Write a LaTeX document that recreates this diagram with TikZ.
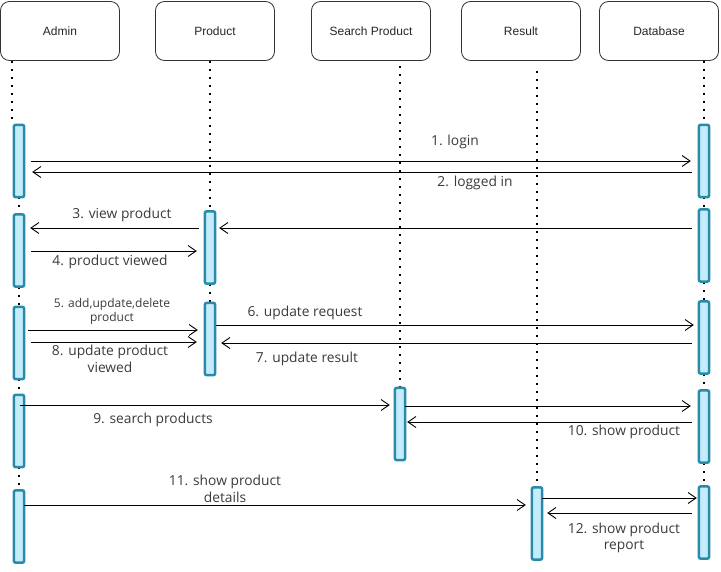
\documentclass[tikz,border=0pt]{standalone}
\usepackage{fontspec}
\setmainfont{Open Sans}
\newfontfamily\headfont{Liberation Sans}
\usetikzlibrary{arrows.meta}
\definecolor{barfill}{HTML}{C4ECFA}
\definecolor{barline}{HTML}{2A8AAA}
\definecolor{labelgray}{HTML}{3A3A3A}
\tikzset{
  head/.style={draw=black!80,line width=0.8pt,rounded corners=9pt,minimum width=119pt,minimum height=59pt,
    font=\headfont\fontsize{12}{14}\selectfont,text=black!85},
  life/.style={line width=2pt,dash pattern=on 2pt off 6pt},
  slot/.style={minimum width=10pt,minimum height=72pt,inner sep=0pt},
  bar/.style={draw=barline,fill=barfill,line width=2.5pt,rounded corners=2pt},
  msg/.style={-{Straight Barb[length=8pt,width=11pt]},line width=0.9pt,shorten <=7pt,shorten >=8pt},
  lbl/.style={font=\fontsize{13.8}{16.5}\selectfont,text=labelgray,inner sep=1pt,align=center},
  small/.style={font=\fontsize{12}{14}\selectfont}
}
\begin{document}
\begin{tikzpicture}[x=1pt,y=-1pt]
\useasboundingbox (0,0) rectangle (721,571);
% participants
\node[head] (admin) at (60,31) {Admin};
\node[head] (product) at (215,31) {Product};
\node[head] (search) at (371,31) {Search Product};
\node[head] (result) at (521,31) {Result};
\node[head] (database) at (659,31) {Database};
% activation slots
\node[slot] (adm1) at (19,161) {};
\node[slot] (adm2) at (19,250.5) {};
\node[slot] (adm3) at (19,343) {};
\node[slot] (adm4) at (19,431) {};
\node[slot] (adm5) at (19,526.5) {};
\node[slot] (prod1) at (210,247.5) {};
\node[slot] (prod2) at (210,339) {};
\node[slot] (srch1) at (400,424) {};
\node[slot] (res1) at (537,523.5) {};
\node[slot] (db1) at (704,161) {};
\node[slot] (db2) at (704,245.5) {};
\node[slot] (db3) at (704,337.5) {};
\node[slot] (db4) at (704,426.5) {};
\node[slot] (db5) at (704,522.5) {};
% lifelines
\draw[life] (admin.south -| 12,0) -- (12,124);
\draw[life] (adm1.south) -- (adm2.north);
\draw[life] (adm2.south) -- (adm3.north);
\draw[life] (adm3.south) -- (adm4.north);
\draw[life] (adm4.south) -- (adm5.north);
\draw[life] (product.south -| prod1) -- (prod1.north);
\draw[life] (prod1.south) -- (prod2.north);
\draw[life,shorten <=5pt] (search.south -| srch1) -- (srch1.north);
\draw[life,shorten <=10pt] (result.south -| res1) -- (res1.north);
\draw[life] (database.south -| db1) -- (db1.north);
\draw[life] (db1.south) -- (db2.north);
\draw[life] (db2.south) -- (db3.north);
\draw[life] (db3.south) -- (db4.north);
\draw[life] (db4.south) -- (db5.north);
% activation bars
\foreach \b in {adm1,adm2,adm3,adm4,adm5,prod1,prod2,srch1,res1,db1,db2,db3,db4,db5}
  \draw[bar] (\b.north west) rectangle (\b.south east);
% messages
\draw[msg] (adm1.east |- 0,161) -- (db1.west |- 0,161);
\draw[msg] (db1.west |- 0,172) -- (adm1.east |- 0,172);
\draw[msg,shorten >=4pt] (db2.west |- 0,228) -- (prod1.east |- 0,228);
\draw[msg,shorten <=6pt,shorten >=6pt] (prod1.west |- 0,228) -- (adm2.east |- 0,228);
\draw[msg] (adm2.east |- 0,251) -- (prod1.west |- 0,251);
\draw[msg,shorten <=4pt,shorten >=7pt] (adm3.east |- 0,330) -- (prod2.west |- 0,330);
\draw[msg] (adm3.east |- 0,342) -- (prod2.west |- 0,342);
\draw[msg,shorten <=1pt,shorten >=5pt] (prod2.east |- 0,325) -- (db3.west |- 0,325);
\draw[msg,shorten >=6pt] (db3.west |- 0,343) -- (prod2.east |- 0,343);
\draw[msg,shorten <=-4pt,shorten >=5pt] (adm4.east |- 0,405) -- (srch1.west |- 0,405);
\draw[msg,shorten <=0pt] (srch1.east |- 0,406) -- (db4.west |- 0,406);
\draw[msg,shorten >=2pt] (db4.west |- 0,422) -- (srch1.east |- 0,422);
\draw[msg,shorten <=0pt,shorten >=6pt] (adm5.east |- 0,505) -- (res1.west |- 0,505);
\draw[msg,shorten <=0pt,shorten >=2pt] (res1.east |- 0,498) -- (db5.west |- 0,498);
\draw[msg,shorten >=5pt] (db5.west |- 0,513) -- (res1.east |- 0,513);
% message labels
\node[lbl] (m1) at (455,142) {1. login};
\node[lbl] (m2) at (475,183) {2. logged in};
\node[lbl] (m3) at (122,215) {3. view product};
\node[lbl] (m4) at (110,262) {4. product viewed};
\node[lbl,small] (m5) at (112,311) {5. add,update,delete\\product};
\node[lbl] (m8) at (110,359) {8. update product\\viewed};
\node[lbl] (m6) at (305,313) {6. update request};
\node[lbl] (m7) at (307,359) {7. update result};
\node[lbl] (m9) at (153,420) {9. search products};
\node[lbl] (m10) at (624,432) {10. show product};
\node[lbl] (m11) at (225,489) {11. show product\\details};
\node[lbl] (m12) at (624,538) {12. show product\\report};
\end{tikzpicture}
\end{document}
